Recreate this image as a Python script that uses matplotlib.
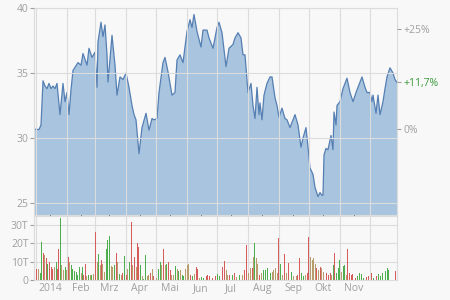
import numpy as np
import pandas as pd
import matplotlib
matplotlib.use("Agg")
import matplotlib.pyplot as plt
import matplotlib.dates as mdates

# price closes, x = days after 2014-01-01
price_days = [-2, 3, 5, 7, 9, 11, 13, 15, 17, 19, 21, 24, 27, 29, 31, 33, 35, 37, 42, 45,
              47, 51, 53, 56, 59, 61, 62, 65, 67, 69, 71, 72, 76, 79, 81, 84, 87, 90, 93, 96,
              98, 100, 103, 106, 110, 113, 116, 118, 121, 123, 127, 129, 132, 136, 139, 141, 144, 147, 149, 151,
              154, 156, 158, 161, 165, 167, 171, 173, 177, 181, 183, 186, 190, 193, 197, 199, 202, 205, 207, 209,
              212, 215, 217, 219, 221, 223, 224, 226, 228, 231, 234, 236, 239, 241, 243, 246, 249, 251, 254, 259,
              262, 265, 267, 270, 272, 274, 277, 279, 282, 284, 286, 287, 288, 290, 292, 295, 297, 298, 300, 301,
              304, 307, 311, 314, 317, 320, 323, 326, 329, 331, 334, 336, 337, 340, 342, 344, 347, 349, 351, 354,
              357, 359, 361]
prices = [30.69, 30.65, 31.0, 34.4, 34.0, 33.8, 34.2, 33.8, 34.0, 33.8, 34.2, 31.8, 34.2, 32.8, 33.5, 31.8, 33.7, 35.2, 35.8, 35.6,
          36.5, 35.6, 36.9, 36.2, 36.6, 33.9, 37.4, 38.9, 37.8, 38.7, 36.4, 34.3, 37.9, 35.6, 33.3, 34.7, 34.5, 35.0, 33.9, 32.5,
          31.8, 31.4, 28.8, 30.8, 31.9, 30.6, 31.5, 31.4, 31.5, 33.5, 35.8, 36.2, 35.1, 33.3, 33.5, 36.0, 36.4, 35.8, 37.0, 38.2,
          39.1, 38.5, 39.5, 38.2, 37.0, 38.3, 38.3, 37.7, 36.9, 38.5, 38.9, 38.1, 35.5, 36.9, 37.2, 37.7, 38.1, 37.7, 36.4, 36.4,
          33.5, 34.2, 32.5, 31.5, 33.9, 31.8, 32.7, 31.4, 33.3, 34.2, 34.7, 34.7, 33.1, 32.5, 31.6, 32.3, 31.5, 31.4, 30.8, 31.8,
          31.0, 29.3, 30.0, 30.8, 29.3, 27.7, 27.2, 26.2, 25.5, 25.8, 25.6, 25.6, 28.7, 29.2, 29.1, 30.2, 29.1, 32.0, 31.0, 32.5,
          32.8, 33.8, 34.6, 33.5, 32.8, 33.5, 34.1, 34.7, 33.9, 33.5, 33.5, 32.8, 33.3, 31.9, 33.3, 31.8, 32.8, 33.8, 34.7, 35.4,
          35.0, 34.5, 34.28]

# daily volume (thousands), colour code: g = up, r = down, b = mixed
vol_days = [1, 3, 5, 6, 8, 9, 11, 12, 14, 16, 17, 19, 21, 22, 23, 25, 26, 28, 30, 31,
            33, 34, 36, 37, 39, 41, 42, 44, 46, 47, 48, 50, 51, 53, 55, 56, 58, 60, 62, 63,
            65, 66, 67, 69, 71, 72, 74, 76, 77, 79, 81, 82, 84, 86, 87, 89, 91, 92, 94, 96,
            97, 99, 101, 102, 103, 105, 107, 108, 110, 112, 113, 115, 117, 118, 121, 123, 125, 126, 128, 130,
            131, 133, 135, 136, 138, 140, 142, 143, 145, 147, 148, 150, 152, 153, 155, 157, 159, 161, 162, 164,
            166, 168, 171, 172, 174, 177, 180, 182, 184, 187, 189, 191, 192, 194, 197, 199, 201, 204, 207, 209,
            211, 213, 215, 217, 218, 219, 221, 222, 224, 226, 228, 230, 232, 235, 237, 238, 240, 242, 243, 245,
            247, 249, 251, 253, 256, 258, 261, 262, 264, 266, 268, 270, 272, 273, 275, 277, 278, 280, 281, 283,
            285, 286, 288, 291, 293, 295, 296, 298, 299, 301, 303, 304, 306, 308, 309, 311, 312, 314, 316, 317,
            320, 322, 324, 326, 328, 331, 333, 336, 338, 341, 343, 345, 347, 350, 352, 353, 360]
volumes = [6, 6, 4, 21, 14.5, 13.6, 12, 9, 10, 7, 6, 7, 10, 6, 17, 34, 8, 5.5, 7, 5.5,
           12.7, 10, 8, 6, 5, 4.5, 3, 7, 4, 7, 2.7, 8.5, 2, 3, 3, 3, 3.5, 26, 10, 14,
           8, 11, 9, 4.5, 17, 22, 24, 7.5, 7, 8, 15, 10, 3.5, 2.7, 4, 13, 3, 6, 10, 31.5,
           8, 12.7, 7, 20, 18, 8, 2, 0.5, 13.6, 2, 2.7, 4, 6, 2, 1, 6, 10, 8, 17, 8,
           9, 10, 5.5, 2.7, 2.7, 7.5, 6, 5, 5.5, 2.7, 2, 6, 8, 9, 2.7, 2, 3.5, 7, 6, 1.3,
           1.5, 1, 2, 2.7, 2, 1.3, 2, 3.5, 2, 7, 10.5, 5.5, 2.7, 2.7, 2.7, 3.6, 1.8, 2.7, 2.7, 5.5,
           19, 3.6, 6.4, 6.4, 12.7, 20.4, 11.8, 9, 2.7, 3.6, 5.5, 5.5, 6.4, 3.6, 4.5, 5.5, 6.4, 3.6, 23, 9,
           2.7, 14, 3.6, 9.5, 4.5, 2, 2, 3, 12, 3.6, 2, 3, 4, 23.6, 12.7, 11, 12, 9, 6.4, 5.5,
           7.3, 6.4, 4.5, 3.6, 2.7, 3.6, 2.7, 8, 14.5, 3.6, 6.4, 11, 4.5, 7.6, 8, 2.7, 17, 3.6, 2.7, 3.3,
           1, 2, 4, 3.3, 1, 1.8, 2, 3.6, 1, 2, 3.3, 2, 3.6, 5, 6.4, 5.5, 5]
vol_dir = list("rbggrbrgrrrbgrrgbbgb"
               "rbggggggbgrrbgbgbrbg"
               "brbbgggbbgrbgbrgrbgr"
               "brbrrgbggbbrbrbggbrb"
               "grrbbgbgbggbbbrgbrrb"
               "ggrrrrrggrrbbrgrbgbr"
               "rbbrbgbbrbggggbbbbrg"
               "brbrgbbrrggbrrbbbbrb"
               "rbbrrrbgrgggbggbrrrr"
               "rggggrrrgrggggggr")

base_price = prices[0]
month_names = ["2014", "Feb", "Mrz", "Apr", "Mai", "Jun", "Jul", "Aug", "Sep", "Okt", "Nov"]

start = pd.Timestamp("2014-01-01")
pdates = start + pd.to_timedelta(price_days, unit="D")
vdates = start + pd.to_timedelta(vol_days, unit="D")

grey = "#a0a0a0"
grid_c = "#dcdcdc"
bg = "#f8f8f8"
colors = {"g": "#4dae4d", "r": "#d65c5c", "b": "#b89c6c"}

plt.rcParams["font.family"] = ["Open Sans", "DejaVu Sans"]
plt.rcParams["font.size"] = 7

fig = plt.figure(figsize=(4.5, 3), dpi=100, facecolor=bg)
ax = fig.add_axes([34 / 450, 1 - 215 / 300, 363 / 450, 207 / 300], facecolor=bg)
axv = fig.add_axes([34 / 450, 1 - 280 / 300, 363 / 450, 64 / 300], facecolor=bg, sharex=ax)

ax.fill_between(pdates, prices, 0, color="#a8c4df", lw=0)
ax.plot(pdates, prices, color="#557fb3", lw=0.9)
ax.set_ylim(24.08, 40)
ax.set_yticks([25, 30, 35, 40])

vcols = [colors[c] for c in vol_dir]
axv.bar(vdates, volumes, width=1.0, color=vcols, lw=0)
axv.set_ylim(0, 35)
axv.set_yticks([0, 10, 20, 30])
axv.set_yticklabels(["0", "10T", "20T", "30T"])

ax.set_xlim(start + pd.Timedelta(days=-2), start + pd.Timedelta(days=361))

for a in (ax, axv):
    a.xaxis.set_major_locator(mdates.MonthLocator())
    a.grid(True, color=grid_c, lw=0.8)
    a.set_axisbelow(True)
    for s in a.spines.values():
        s.set_color(grid_c)
    a.tick_params(axis="y", colors=grey, length=3, width=0.8, pad=1, labelsize=7.5)
    a.tick_params(axis="x", length=0)
ax.set_axisbelow(False)
ax.tick_params(axis="x", labelbottom=False)

mid_ticks = [start + pd.DateOffset(months=i) + pd.Timedelta(days=14) for i in range(len(month_names))]
axv.set_xticks(mid_ticks, minor=True)
axv.set_xticklabels(month_names, minor=True)
axv.tick_params(axis="x", which="minor", length=0, colors=grey, labelsize=7.5, pad=2)
axv.tick_params(axis="x", which="major", labelbottom=False)

# right percentage axis
axr = ax.twinx()
axr.set_ylim(ax.get_ylim())
last = prices[-1]
axr.set_yticks([base_price, base_price * 1.25, last])
pct = (last / base_price - 1) * 100
axr.set_yticklabels(["0%", "+25%", ("+%.1f%%" % pct).replace(".", ",")])
axr.tick_params(axis="y", colors=grey, length=3, width=0.8, pad=2, labelsize=7.5)
axr.get_yticklabels()[2].set_color("#3b9a3b")
for s in axr.spines.values():
    s.set_visible(False)

fig.savefig("out.png", dpi=100, facecolor=bg)
